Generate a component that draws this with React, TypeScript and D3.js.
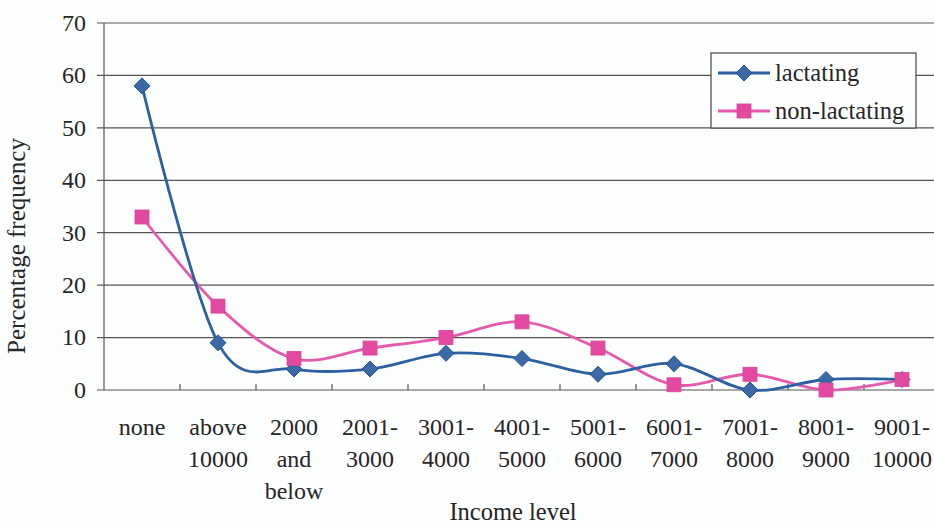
import React from "react";
import * as d3 from "d3";

const categories: string[][] = [
  ["none"],
  ["above", "10000"],
  ["2000", "and", "below"],
  ["2001-", "3000"],
  ["3001-", "4000"],
  ["4001-", "5000"],
  ["5001-", "6000"],
  ["6001-", "7000"],
  ["7001-", "8000"],
  ["8001-", "9000"],
  ["9001-", "10000"],
];
const lactating = [58, 9, 4, 4, 7, 6, 3, 5, 0, 2, 2];
const nonLactating = [33, 16, 6, 8, 10, 13, 8, 1, 3, 0, 2];
const yTicks = [0, 10, 20, 30, 40, 50, 60, 70];

const W = 934;
const H = 525;
const left = 104;
const top = 23;
const bottom = 390;
const FONT = "'Liberation Serif', 'Times New Roman', serif";
const INK = "#262626";

export default function App() {
  const x = d3
    .scaleBand<number>()
    .domain(categories.map((_, i) => i))
    .range([left, left + 11 * 76])
    .padding(0);
  const y = d3.scaleLinear().domain([0, 70]).range([bottom, top]);
  const cx = (i: number) => (x(i) as number) + x.bandwidth() / 2;

  const line = d3
    .line<number>()
    .x((_, i) => cx(i))
    .y((d) => y(d))
    .curve(d3.curveCatmullRom.alpha(0));

  const blue = "#2c60a0";
  const blueFill = "#3a69a6";
  const pink = "#e65aac";
  const pinkFill = "#e24aa2";

  const diamond = (px: number, py: number, r: number, key?: React.Key) => (
    <path
      key={key}
      d={`M${px},${py - r}L${px + r},${py}L${px},${py + r}L${px - r},${py}Z`}
      fill={blueFill}
      stroke="#24548f"
      strokeWidth={1}
    />
  );
  const square = (px: number, py: number, s: number, key?: React.Key) => (
    <rect
      key={key}
      x={px - s / 2}
      y={py - s / 2}
      width={s}
      height={s}
      fill={pinkFill}
      stroke="#d8449a"
      strokeWidth={0.8}
    />
  );

  const boundaries = d3.range(1, categories.length).map((i) => x(i) as number);

  return (
    <svg
      width={W}
      height={H}
      style={{ position: "absolute", left: 0, top: 0, background: "#fcfdfd" }}
      fontFamily={FONT}
    >
      {/* horizontal gridlines with tick stubs on the left */}
      {yTicks.map((t) => (
        <g key={t}>
          <line x1={97} x2={W} y1={y(t)} y2={y(t)} stroke="#555" strokeWidth={1.2} />
          <text x={86} y={y(t)} dy="0.33em" textAnchor="end" fontSize={24} fill={INK}>
            {t}
          </text>
        </g>
      ))}
      {/* value axis */}
      <line x1={left} x2={left} y1={top} y2={bottom} stroke="#555" strokeWidth={1.2} />
      {/* category tick marks */}
      {boundaries.map((bx, i) => (
        <line key={i} x1={bx} x2={bx} y1={bottom} y2={bottom - 6} stroke="#555" strokeWidth={1.2} />
      ))}
      {/* category labels */}
      {categories.map((lines, i) => (
        <text key={i} x={cx(i)} textAnchor="middle" fontSize={24} fill={INK}>
          {lines.map((s, j) => (
            <tspan key={j} x={cx(i)} y={435 + j * 32}>
              {s}
            </tspan>
          ))}
        </text>
      ))}
      {/* series */}
      <path d={line(nonLactating) || ""} fill="none" stroke={pink} strokeWidth={2.8} />
      <path d={line(lactating) || ""} fill="none" stroke={blue} strokeWidth={2.8} />
      {lactating.map((v, i) => diamond(cx(i), y(v), 8, `d${i}`))}
      {nonLactating.map((v, i) => square(cx(i), y(v), 14, `s${i}`))}

      {/* axis titles */}
      <text
        transform={`translate(25,246) rotate(-90)`}
        textAnchor="middle"
        fontSize={25}
        fill={INK}
      >
        Percentage frequency
      </text>
      <text x={513} y={520} textAnchor="middle" fontSize={24.5} fill={INK}>
        Income level
      </text>

      {/* legend */}
      <rect x={711} y={53} width={205} height={75} fill="#fcfdfd" stroke="#444" strokeWidth={1.2} />
      <line x1={718} x2={770} y1={73} y2={73} stroke={blue} strokeWidth={2.8} />
      {diamond(744, 73, 8)}
      <text x={775} y={73} dy="0.33em" fontSize={24.5} fill={INK}>
        lactating
      </text>
      <line x1={718} x2={770} y1={111} y2={111} stroke={pink} strokeWidth={2.8} />
      {square(744, 111, 14)}
      <text x={775} y={111} dy="0.33em" fontSize={24.5} fill={INK}>
        non-lactating
      </text>
    </svg>
  );
}
